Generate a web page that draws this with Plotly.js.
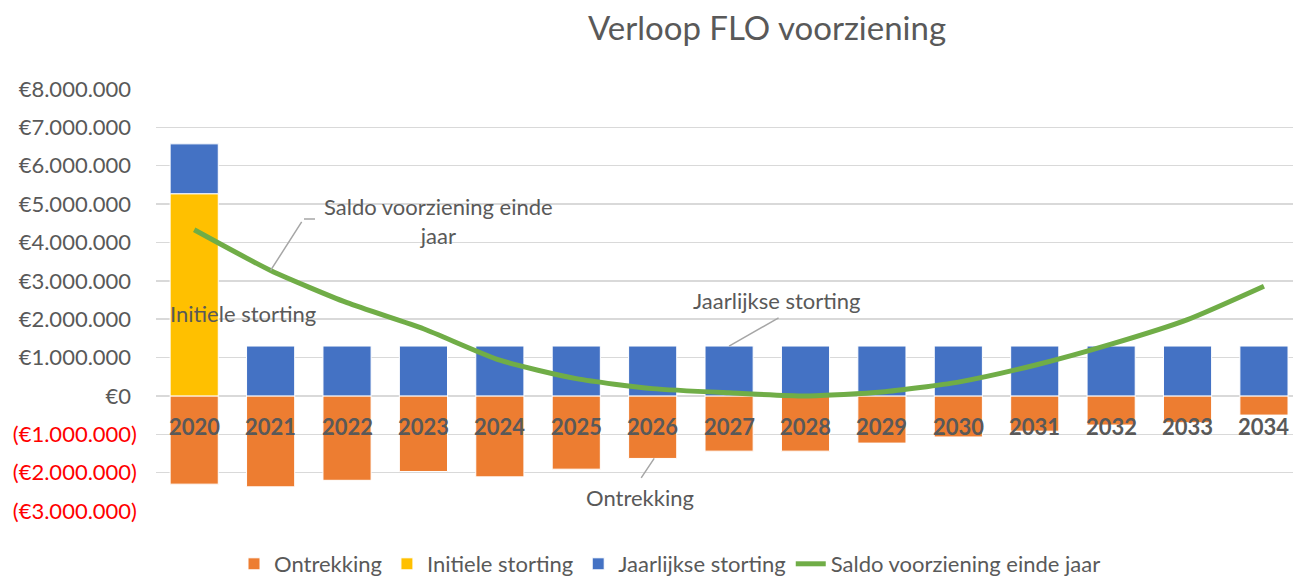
<!DOCTYPE html>
<html>
<head>
<meta charset="utf-8">
<script src="https://cdn.plot.ly/plotly-3.0.1.min.js"></script>
<style>
  html, body { margin: 0; padding: 0; background: #fff; }
  #chart { width: 1293px; height: 576px; }
</style>
</head>
<body>
<div id="chart"></div>
<script>
const years = ['2020', '2021', '2022', '2023', '2024', '2025', '2026', '2027',
  '2028', '2029', '2030', '2031', '2032', '2033', '2034'];
const ontrekking = [-2300000, -2370000, -2200000, -1970000, -2110000, -1910000, -1630000,
  -1440000, -1440000, -1230000, -1070000, -920000, -760000, -700000, -500000];
const initieleStorting = [5270000, null, null, null, null, null, null, null,
  null, null, null, null, null, null, null];
const jaarlijkseStorting = [1300000, 1300000, 1300000, 1300000, 1300000, 1300000, 1300000,
  1300000, 1300000, 1300000, 1300000, 1300000, 1300000, 1300000, 1300000];
const saldo = [4330000, 3270000, 2430000, 1750000, 930000, 450000, 190000, 80000,
  0, 100000, 360000, 800000, 1350000, 1990000, 2860000];

const yTickVals = [-3000000, -2000000, -1000000, 0, 1000000, 2000000, 3000000,
  4000000, 5000000, 6000000, 7000000, 8000000];
const yTickText = ['(€3.000.000)', '(€2.000.000)', '(€1.000.000)', '€0', '€1.000.000',
  '€2.000.000', '€3.000.000', '€4.000.000', '€5.000.000', '€6.000.000', '€7.000.000', '€8.000.000'];

const FONT = 'Lato, "Open Sans", sans-serif';
const GREY = '#595959';

// plot area in pixels, used to place the labels like the original
const PL = 156, PR = 1293, PT = 89, PB = 511;
const px = (x) => (x - PL) / (PR - PL);
const py = (y) => (PB - y) / (PB - PT);

function tickLabel(v, t) {
  if (v < 0) return `<span style="color:#FF0000">${t}</span>`;
  return `${t}<span style="color:rgba(0,0,0,0)">)</span>`;
}

const barLine = { color: '#ffffff', width: 1 };

const traces = [
  {
    name: 'Ontrekking', type: 'bar', x: years, y: ontrekking,
    marker: { color: '#ED7D31', line: barLine },
  },
  {
    name: 'Initiele storting', type: 'bar', x: years, y: initieleStorting,
    marker: { color: '#FFC000', line: barLine },
  },
  {
    name: 'Jaarlijkse storting', type: 'bar', x: years, y: jaarlijkseStorting,
    marker: { color: '#4472C4', line: barLine },
  },
  {
    name: 'Saldo voorziening einde jaar', type: 'scatter', mode: 'lines', x: years, y: saldo,
    line: { color: '#70AD47', width: 5, shape: 'spline', smoothing: 0.6 },
  },
];

const labelFont = { family: FONT, size: 22, color: GREY };
const leader = { showarrow: true, arrowhead: 0, arrowwidth: 1.5, arrowcolor: '#A6A6A6', text: '', axref: 'pixel', ayref: 'pixel' };

// category axis: annotation x is the category index
const annotations = years.map((yr, i) => ({
  x: i, y: 0, xref: 'x', yref: 'y', yshift: -31, showarrow: false,
  text: `<b>${yr}</b>`, font: labelFont, xanchor: 'center', yanchor: 'middle',
}));

const textBox = (x, y, text) => ({
  xref: 'paper', yref: 'paper', x: px(x), y: py(y), xanchor: 'center', yanchor: 'middle',
  showarrow: false, text, font: labelFont, align: 'center',
});

annotations.push(
  textBox(438, 221, 'Saldo voorziening einde<br>jaar'),
  textBox(243, 313, 'Initiele storting'),
  textBox(777, 300, 'Jaarlijkse storting'),
  textBox(640, 497, 'Ontrekking'),
  Object.assign({ x: 1, y: saldo[1], xref: 'x', yref: 'y', ax: 32, ay: -50 }, leader),
  Object.assign({ x: 7, y: jaarlijkseStorting[7], xref: 'x', yref: 'y', ax: 51, ay: -29 }, leader),
  Object.assign({ x: 6.02, y: ontrekking[6], xref: 'x', yref: 'y', ax: -14, ay: 21 }, leader),
);

const shapes = [
  // short horizontal end of the saldo leader line
  { type: 'line', xref: 'paper', yref: 'paper', x0: px(304), x1: px(315), y0: py(219), y1: py(219),
    line: { color: '#A6A6A6', width: 1.5 } },
];

const layout = {
  width: 1293, height: 576,
  margin: { l: PL, r: 0, t: PT, b: 576 - PB, pad: 0 },
  paper_bgcolor: '#ffffff', plot_bgcolor: '#ffffff',
  font: { family: FONT, color: GREY },
  title: {
    text: 'Verloop FLO voorziening', font: { family: FONT, size: 33, color: GREY },
    xref: 'container', yref: 'container', x: 767 / 1293, xanchor: 'center',
    y: 1 - 28 / 576, yanchor: 'middle',
  },
  barmode: 'relative', bargap: 0.37,
  xaxis: {
    type: 'category', range: [-0.5, 14.38], showticklabels: false,
    showgrid: false, zeroline: false, showline: false, fixedrange: true,
  },
  yaxis: {
    range: [-3000000, 8000000], tickvals: yTickVals,
    ticktext: yTickVals.map((v, i) => tickLabel(v, yTickText[i])),
    tickfont: { family: FONT, size: 22, color: GREY }, ticks: '', ticklabelstandoff: 18,
    showgrid: true, gridcolor: '#D9D9D9', gridwidth: 1.5,
    zeroline: true, zerolinecolor: '#D9D9D9', zerolinewidth: 1.5, showline: false,
  },
  legend: {
    orientation: 'h', xref: 'container', yref: 'container',
    x: 670 / 1293, xanchor: 'center', y: (576 - 543) / 576, yanchor: 'top',
    font: { family: FONT, size: 22, color: GREY }, traceorder: 'normal',
  },
  annotations, shapes,
  showlegend: true,
};

Plotly.newPlot('chart', traces, layout, { displayModeBar: false, staticPlot: true });
</script>
</body>
</html>
